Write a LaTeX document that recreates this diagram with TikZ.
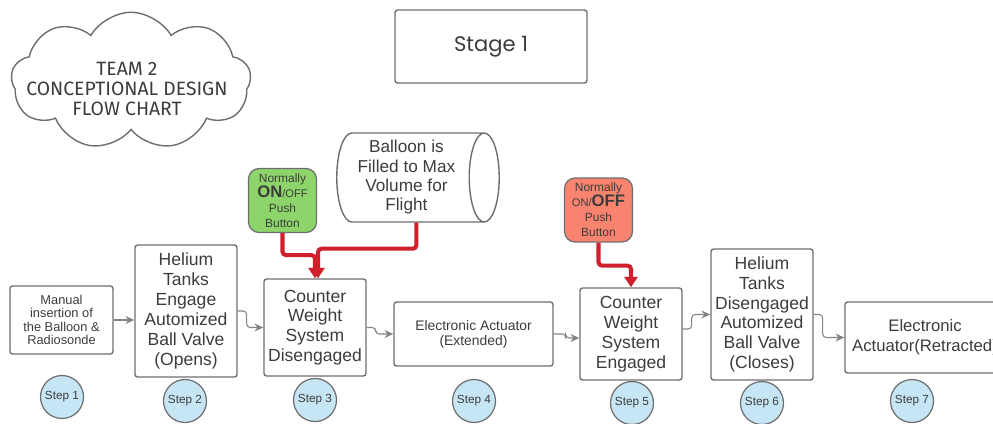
\documentclass[tikz,border=0pt]{standalone}
\usepackage{fontspec}
\setmainfont{Liberation Sans}
\newfontfamily\stagefont{Poppins}
\newfontfamily\cloudfont{Fira Sans}
\usetikzlibrary{arrows.meta,shapes.geometric,shapes.symbols}

\definecolor{edgegray}{HTML}{6E6E6E}
\definecolor{txtgray}{HTML}{3C3C3C}
\definecolor{stepblue}{HTML}{C6E6F6}
\definecolor{btngreen}{HTML}{8DD56A}
\definecolor{btnred}{HTML}{F8836F}
\definecolor{linkred}{HTML}{D0202C}

\tikzset{
  box/.style={draw=edgegray, line width=0.8pt, rounded corners=1.5pt, align=center, text=txtgray, inner sep=1pt},
  stepdot/.style={circle, draw=edgegray, line width=0.7pt, fill=stepblue, minimum size=0.86cm, inner sep=0pt, text=txtgray, font=\fontsize{6.7}{7}\selectfont},
  button/.style={draw=edgegray, line width=0.7pt, rounded corners=6pt, align=center, text=txtgray, minimum width=1.36cm, minimum height=1.28cm, inner sep=0pt, font=\fontsize{6.8}{8.5}\selectfont},
  link/.style={draw=edgegray!85, line width=0.6pt, rounded corners=2pt, -{Stealth[length=5pt,width=4.5pt]}},
  redlink/.style={draw=linkred, line width=2.3pt, rounded corners=2pt, -{Triangle[length=6pt,width=7.5pt]}}
}

\begin{document}
\begin{tikzpicture}[x=0.02cm, y=-0.02cm]
  \useasboundingbox (0,0) rectangle (993,423);
  \clip (0,0) rectangle (993,423);

  % title cloud and stage box
  \node[cloud, draw=edgegray, line width=0.8pt, cloud puffs=9, cloud puff arc=120, aspect=1.75,
        minimum width=4.8cm, minimum height=2.75cm] (cloud) at (131,81) {};
  \node[align=center, text=txtgray, font=\cloudfont\fontsize{11}{11.4}\selectfont] (title) at (127,89)
    {TEAM 2\\CONCEPTIONAL DESIGN\\FLOW CHART};
  \node[box, minimum width=3.84cm, minimum height=1.46cm, font=\stagefont\fontsize{12}{14}\selectfont] (stage) at (491,46.5) {Stage 1};

  % inputs
  \node[cylinder, anchor=shape center, draw=edgegray, line width=0.8pt, aspect=0.35, minimum width=1.78cm, minimum height=3.25cm,
        align=center, text=txtgray, font=\fontsize{9.8}{11}\selectfont] (balloon) at (418,177.5)
    {Balloon is\\Filled to Max\\Volume for\\Flight};
  \node[button, fill=btngreen] (onbtn) at (282.5,200.5)
    {Normally\\{\fontsize{9.5}{8.5}\selectfont\bfseries ON}{\fontsize{6.3}{8.5}\selectfont/OFF}\\Push\\Button};
  \node[button, fill=btnred] (offbtn) at (598.5,210)
    {Normally\\{\fontsize{6.3}{8.5}\selectfont ON/}{\fontsize{9.5}{8.5}\selectfont\bfseries OFF}\\Push\\Button};

  % steps
  \node[box, minimum width=2.06cm, minimum height=1.36cm, font=\fontsize{7.3}{7.6}\selectfont] (b1) at (61.5,320)
    {Manual\\insertion of\\the Balloon \&\\Radiosonde};
  \node[box, minimum width=2.04cm, minimum height=2.64cm, font=\fontsize{10}{11.3}\selectfont] (b2) at (186,311)
    {Helium\\Tanks\\Engage\\Automized\\Ball Valve\\(Opens)};
  \node[box, minimum width=2.04cm, minimum height=1.94cm, font=\fontsize{10}{11.3}\selectfont] (b3) at (315,327.5)
    {Counter\\Weight\\System\\Disengaged};
  \node[box, minimum width=3.18cm, minimum height=1.28cm, font=\fontsize{7.9}{8.6}\selectfont] (b4) at (473.5,334)
    {Electronic Actuator\\(Extended)};
  \node[box, minimum width=2.04cm, minimum height=1.84cm, font=\fontsize{10}{11.3}\selectfont] (b5) at (631,334)
    {Counter\\Weight\\System\\Engaged};
  \node[box, minimum width=2.04cm, minimum height=2.62cm, font=\fontsize{10}{11.3}\selectfont] (b6) at (762,314.5)
    {Helium\\Tanks\\Disengaged\\Automized\\Ball Valve\\(Closes)};
  \node[box, minimum width=3.2cm, minimum height=1.42cm, font=\fontsize{9.5}{11.3}\selectfont] (b7) at (925,337.5)
    {Electronic\\\hspace*{-1.2cm}Actuator(Retracted)\hspace*{-1.2cm}};

  \node[stepdot] (s1) at (62,397) {Step 1};
  \node[stepdot] (s2) at (185,401) {Step 2};
  \node[stepdot] (s3) at (315,400) {Step 3};
  \node[stepdot] (s4) at (474,401) {Step 4};
  \node[stepdot] (s5) at (632,403) {Step 5};
  \node[stepdot] (s6) at (762,403) {Step 6};
  \node[stepdot] (s7) at (912,401) {Step 7};

  % flow
  \draw[link] (b1.east) -- (b1.east -| b2.west);
  \draw[link] (b2.east) -- ++(9,0) |- (b3.west);
  \draw[link] (b3.east) -- ++(9,0) |- (b4.west);
  \draw[link] (b4.east) -- ++(12,0) |- ([yshift=-0.08cm]b5.west);
  \draw[link] ([yshift=0.1cm]b5.east) -- ++(9,0) |- (b6.west);
  \draw[link] (b6.east) -- ++(9,0) |- (b7.west);

  % triggers
  \draw[redlink] (onbtn.south) -- ++(0,22) -| (b3.north);
  \draw[redlink] ([xshift=0.2cm]balloon.south) -- ++(0,26) -| ([xshift=0.06cm]b3.north);
  \draw[redlink] (offbtn.south) -- ++(0,23) -| (b5.north);
\end{tikzpicture}
\end{document}
